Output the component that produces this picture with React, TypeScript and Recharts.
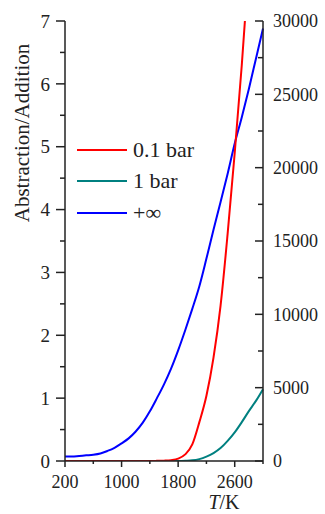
import React from "react";
import { LineChart, Line, XAxis, YAxis, Label, Legend } from "recharts";

// temperature grid, K
const temps = [
  200, 300, 400, 500, 600, 700, 800, 900, 1000, 1100, 1200, 1300, 1400, 1500,
  1600, 1700, 1800, 1900, 2000, 2100, 2200, 2300, 2400, 2500, 2600, 2700, 2800,
  2900, 3000,
];

// +∞ (left axis)
const infRatio = [
  0.07, 0.07, 0.08, 0.09, 0.1, 0.12, 0.16, 0.21, 0.28, 0.36, 0.47, 0.61, 0.79,
  1.0, 1.22, 1.47, 1.76, 2.08, 2.42, 2.78, 3.22, 3.68, 4.12, 4.57, 5.05, 5.47,
  5.92, 6.4, 6.88,
];

// 0.1 bar (right axis)
const bar01Ratio: (number | null)[] = [
  0, 0, 0, 0, 0, 0, 0, 0, 0, 0, 0, 0, 0, 10, 25, 60, 160, 450, 1130, 2650, 4450,
  7050, 10600, 15500, 21000, 27000, 33800, null, null,
];

// 1 bar (right axis)
const bar1Ratio = [
  0, 0, 0, 0, 0, 0, 0, 0, 0, 0, 0, 0, 0, 0, 0, 0, 5, 20, 45, 130, 300, 540, 880,
  1370, 1950, 2650, 3400, 4100, 4900,
];

const xTicks = [200, 600, 1000, 1400, 1800, 2200, 2600, 3000];
const xMajor = [200, 1000, 1800, 2600];
const leftTicks = [0, 0.5, 1, 1.5, 2, 2.5, 3, 3.5, 4, 4.5, 5, 5.5, 6, 6.5, 7];
const rightTicks = [
  0, 2500, 5000, 7500, 10000, 12500, 15000, 17500, 20000, 22500, 25000, 27500,
  30000,
];

const series = [
  { key: "bar01", name: "0.1 bar", color: "#ff0000" },
  { key: "bar1", name: "1 bar", color: "#008080" },
  { key: "inf", name: "+\u221e", color: "#0000ff" },
];

const data = temps.map((t, i) => ({
  T: t,
  inf: infRatio[i],
  bar01: bar01Ratio[i],
  bar1: bar1Ratio[i],
}));

const FONT = "'Liberation Serif', 'Times New Roman', serif";
const AXIS = "#222";

const BottomTick = (props: any) => {
  const { x, y, payload } = props;
  const major = xMajor.includes(payload.value);
  return (
    <g>
      <line x1={x} y1={y} x2={x} y2={y + (major ? 6 : 3)} stroke={AXIS} strokeWidth={1.5} />
      {major && (
        <text x={x} y={y + 27} textAnchor="middle" fontFamily={FONT} fontSize={18} fill="#222">
          {payload.value}
        </text>
      )}
    </g>
  );
};

const LeftTick = (props: any) => {
  const { x, y, payload } = props;
  const major = Number.isInteger(payload.value);
  return (
    <g>
      <line x1={x} y1={y} x2={x - (major ? 9 : 5)} y2={y} stroke={AXIS} strokeWidth={1.5} />
      {major && (
        <text x={x - 15} y={y} dy="0.35em" textAnchor="end" fontFamily={FONT} fontSize={19} fill="#222">
          {payload.value}
        </text>
      )}
    </g>
  );
};

const RightTick = (props: any) => {
  const { x, y, payload } = props;
  const major = payload.value % 5000 === 0;
  return (
    <g>
      <line x1={x} y1={y} x2={x - (major ? 8 : 5)} y2={y} stroke={AXIS} strokeWidth={1.5} />
      {major && (
        <text x={x + 10} y={y} dy="0.35em" textAnchor="start" fontFamily={FONT} fontSize={18} fill="#222">
          {payload.value}
        </text>
      )}
    </g>
  );
};

const renderLegend = () => (
  <div style={{ fontFamily: FONT, fontSize: 22, color: "#222" }}>
    {series.map((s) => (
      <div key={s.key} style={{ display: "flex", alignItems: "center", height: 31.6 }}>
        <svg width={50} height={4} style={{ marginRight: 6 }}>
          <line x1={0} y1={2} x2={50} y2={2} stroke={s.color} strokeWidth={2} />
        </svg>
        <span>{s.name}</span>
      </div>
    ))}
  </div>
);

export default function App() {
  return (
    <div>
      <style>{"body{margin:0}"}</style>
      <LineChart
        width={325}
        height={514}
        data={data}
        margin={{ top: 21, right: 0, left: 0, bottom: 0 }}
      >
        <XAxis
          dataKey="T"
          type="number"
          domain={[200, 3000]}
          ticks={xTicks}
          interval={0}
          height={53}
          tickSize={0}
          tickMargin={0}
          tick={<BottomTick />}
          axisLine={{ stroke: AXIS, strokeWidth: 1.5 }}
        >
          <Label
            content={() => (
              <text x={224} y={509} textAnchor="middle" fontFamily={FONT} fontSize={20} fill="#222">
                <tspan fontStyle="italic">T</tspan>/K
              </text>
            )}
          />
        </XAxis>
        <YAxis
          yAxisId="left"
          orientation="left"
          domain={[0, 7]}
          ticks={leftTicks}
          interval={0}
          width={65}
          tickSize={0}
          tickMargin={0}
          tick={<LeftTick />}
          axisLine={{ stroke: AXIS, strokeWidth: 1.5 }}
        >
          <Label
            content={() => (
              <text
                x={29}
                y={133}
                transform="rotate(-90 29 133)"
                textAnchor="middle"
                fontFamily={FONT}
                fontSize={21}
                fill="#222"
              >
                Abstraction/Addition
              </text>
            )}
          />
        </YAxis>
        <YAxis
          yAxisId="right"
          orientation="right"
          domain={[0, 30000]}
          allowDataOverflow
          ticks={rightTicks}
          interval={0}
          width={62}
          tickSize={0}
          tickMargin={0}
          tick={<RightTick />}
          axisLine={{ stroke: AXIS, strokeWidth: 1.5 }}
        />
        <Legend
          layout="vertical"
          verticalAlign="middle"
          align="center"
          wrapperStyle={{ top: 134, left: 77, width: 150 }}
          content={renderLegend}
        />
        <Line
          yAxisId="right"
          type="monotone"
          dataKey="bar1"
          name="1 bar"
          stroke="#008080"
          strokeWidth={2}
          dot={false}
          isAnimationActive={false}
        />
        <Line
          yAxisId="left"
          type="monotone"
          dataKey="inf"
          name={"+\u221e"}
          stroke="#0000ff"
          strokeWidth={2}
          dot={false}
          isAnimationActive={false}
        />
        <Line
          yAxisId="right"
          type="monotone"
          dataKey="bar01"
          name="0.1 bar"
          stroke="#ff0000"
          strokeWidth={2}
          dot={false}
          isAnimationActive={false}
        />
      </LineChart>
    </div>
  );
}
